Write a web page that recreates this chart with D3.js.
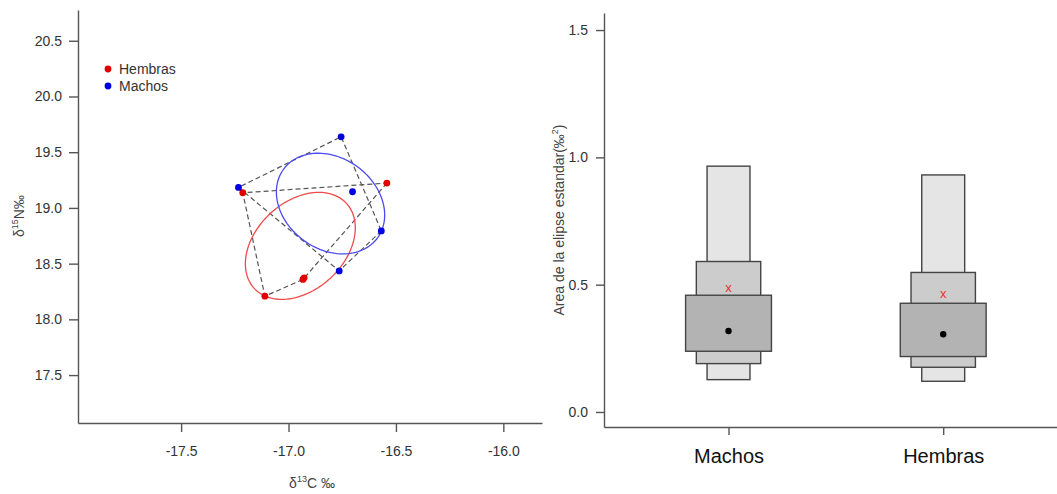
<!DOCTYPE html>
<html>
<head>
<meta charset="utf-8">
<style>
  body { margin: 0; background: #fff; }
  svg { display: block; }
  text { font-family: "Liberation Sans", Arial, sans-serif; }
</style>
</head>
<body>
<svg width="1057" height="494"></svg>
<script src="https://d3js.org/d3.v7.min.js"></script>
<script>

// ---- left panel: isotope scatter (d13C vs d15N) ----
var groups = ["Hembras", "Machos"];
var groupColors = ["#e00000", "#0000e0"];
var ellipseColors = ["#f04a4a", "#4a4af0"];

var hembrasC = [-17.213, -16.542, -16.927, -16.933, -17.110];
var hembrasN = [19.136, 19.223, 18.373, 18.358, 18.208];
var machosC = [-17.233, -16.755, -16.702, -16.568, -16.764];
var machosN = [19.184, 19.638, 19.145, 18.794, 18.435];

var xTicksL = [-17.5, -17.0, -16.5, -16.0];
var yTicksL = [17.5, 18.0, 18.5, 19.0, 19.5, 20.0, 20.5];

// ---- right panel: SEA posterior density boxes ----
var seaCats = ["Machos", "Hembras"];
var seaMode = [0.318, 0.305];
var seaC = [0.491, 0.465];
var ci50Lo = [0.2385, 0.2177], ci50Hi = [0.4585, 0.427];
var ci75Lo = [0.190, 0.1756], ci75Hi = [0.591, 0.548];
var ci95Lo = [0.127, 0.1206], ci95Hi = [0.9655, 0.931];
var yTicksR = [0.0, 0.5, 1.0, 1.5];

var svg = d3.select("svg");
var axisColor = "#555";
var fmt = function(d) { return d.toFixed(1); };

// scales
var xL = d3.scaleLinear().domain([-17.98, -15.82]).range([78, 542]);
var yL = d3.scaleLinear().domain([17.07, 20.776]).range([423, 10]);
var xR = d3.scaleLinear().domain([0.42, 2.53]).range([604, 1057]);
var yR = d3.scaleLinear().domain([-0.059, 1.567]).range([427, 13]);

function styleAxis(g, fontSize) {
  g.select(".domain").attr("stroke", axisColor).attr("stroke-width", 1.4);
  g.selectAll(".tick line").attr("stroke", axisColor).attr("stroke-width", 1.4);
  g.selectAll(".tick text").attr("fill", "#333").attr("font-size", fontSize)
    .attr("font-family", "Liberation Sans, Arial, sans-serif");
}

// left axes
var gxL = svg.append("g").attr("transform", "translate(0,423)")
    .call(d3.axisBottom(xL).tickValues(xTicksL).tickFormat(fmt).tickSize(9).tickSizeOuter(0).tickPadding(14));
styleAxis(gxL, 14);
var gyL = svg.append("g").attr("transform", "translate(78,0)")
    .call(d3.axisLeft(yL).tickValues(yTicksL).tickFormat(fmt).tickSize(9).tickSizeOuter(0).tickPadding(7));
styleAxis(gyL, 14);

// axis titles (left)
var xt = svg.append("text").attr("x", 312).attr("y", 488).attr("text-anchor", "middle")
    .attr("font-size", 14).attr("fill", "#444");
xt.append("tspan").text("δ");
xt.append("tspan").attr("font-size", 9).attr("dy", -6).text("13");
xt.append("tspan").attr("dy", 6).text("C ‰");

var yt = svg.append("text").attr("transform", "translate(24,216) rotate(-90)")
    .attr("text-anchor", "middle").attr("font-size", 14).attr("fill", "#444");
yt.append("tspan").text("δ");
yt.append("tspan").attr("font-size", 9).attr("dy", -6).text("15");
yt.append("tspan").attr("dy", 6).text("N‰");

// group data
var groupData = [
  { name: groups[0], c: hembrasC, n: hembrasN, color: groupColors[0], ell: ellipseColors[0] },
  { name: groups[1], c: machosC, n: machosN, color: groupColors[1], ell: ellipseColors[1] }
];

// standard ellipse from sample covariance
function stdEllipse(cs, ns) {
  var n = cs.length, mx = d3.mean(cs), my = d3.mean(ns);
  var a = 0, b = 0, c = 0;
  for (var i = 0; i < n; i++) {
    var dx = cs[i] - mx, dy = ns[i] - my;
    a += dx * dx; b += dx * dy; c += dy * dy;
  }
  a /= (n - 1); b /= (n - 1); c /= (n - 1);
  var m = (a + c) / 2, r = Math.sqrt(((a - c) / 2) * ((a - c) / 2) + b * b);
  var l1 = m + r, l2 = m - r;
  var th = 0.5 * Math.atan2(2 * b, a - c);
  var pts = [];
  for (var k = 0; k < 120; k++) {
    var t = 2 * Math.PI * k / 120;
    var u = Math.sqrt(l1) * Math.cos(t), v = Math.sqrt(l2) * Math.sin(t);
    pts.push([mx + u * Math.cos(th) - v * Math.sin(th), my + u * Math.sin(th) + v * Math.cos(th)]);
  }
  return pts;
}

var lineL = d3.line()
    .x(function(d) { return xL(d[0]); })
    .y(function(d) { return yL(d[1]); })
    .curve(d3.curveLinearClosed);

// convex hulls (dashed)
groupData.forEach(function(g) {
  var pts = g.c.map(function(v, i) { return [v, g.n[i]]; });
  var hull = d3.polygonHull(pts);
  svg.append("path").datum(hull)
      .attr("d", lineL)
      .attr("fill", "none")
      .attr("stroke", "#555")
      .attr("stroke-width", 1.2)
      .attr("stroke-dasharray", "5,3");
});

// ellipses
groupData.forEach(function(g) {
  svg.append("path").datum(stdEllipse(g.c, g.n))
      .attr("d", lineL)
      .attr("fill", "none")
      .attr("stroke", g.ell)
      .attr("stroke-width", 1.3);
});

// points
groupData.forEach(function(g) {
  svg.append("g").selectAll("circle")
    .data(g.c.map(function(v, i) { return [v, g.n[i]]; }))
    .enter().append("circle")
      .attr("cx", function(d) { return xL(d[0]); })
      .attr("cy", function(d) { return yL(d[1]); })
      .attr("r", 3.4)
      .attr("fill", g.color);
});

// legend
var leg = svg.append("g");
groupData.forEach(function(g, i) {
  leg.append("circle").attr("cx", 108).attr("cy", 69 + i * 17).attr("r", 3.4).attr("fill", g.color);
  leg.append("text").attr("x", 119).attr("y", 74 + i * 17)
      .attr("font-size", 14).attr("fill", "#333").text(g.name);
});

// ---- right panel ----
var gyR = svg.append("g").attr("transform", "translate(604,0)")
    .call(d3.axisLeft(yR).tickValues(yTicksR).tickFormat(fmt).tickSize(8).tickSizeOuter(0).tickPadding(8));
styleAxis(gyR, 14);

var gxR = svg.append("g").attr("transform", "translate(0,427)")
    .call(d3.axisBottom(xR).tickValues([1, 2]).tickFormat(function(d) { return seaCats[d - 1]; })
      .tickSize(8).tickSizeOuter(0).tickPadding(14));
styleAxis(gxR, 20);
gxR.selectAll(".tick text").attr("font-family", "Lato, 'Open Sans', sans-serif").attr("fill", "#111");

var yrt = svg.append("text").attr("transform", "translate(564,220) rotate(-90)")
    .attr("text-anchor", "middle").attr("font-size", 14).attr("fill", "#444");
yrt.append("tspan").text("Area de la elipse estandar(‰");
yrt.append("tspan").attr("font-size", 9).attr("dy", -6).text("2");
yrt.append("tspan").attr("dy", 6).text(")");

var levels = [
  { lo: ci95Lo, hi: ci95Hi, w: 0.10, fill: "#e5e5e5" },
  { lo: ci75Lo, hi: ci75Hi, w: 0.15, fill: "#cccccc" },
  { lo: ci50Lo, hi: ci50Hi, w: 0.20, fill: "#b3b3b3" }
];

seaCats.forEach(function(cat, i) {
  var pos = i + 1;
  levels.forEach(function(lv) {
    svg.append("rect")
        .attr("x", xR(pos - lv.w))
        .attr("width", xR(pos + lv.w) - xR(pos - lv.w))
        .attr("y", yR(lv.hi[i]))
        .attr("height", yR(lv.lo[i]) - yR(lv.hi[i]))
        .attr("fill", lv.fill)
        .attr("stroke", "#444")
        .attr("stroke-width", 1.4);
  });
  svg.append("circle")
      .attr("cx", xR(pos))
      .attr("cy", yR(seaMode[i]))
      .attr("r", 3.2)
      .attr("fill", "#000");
  svg.append("text")
      .attr("x", xR(pos))
      .attr("y", yR(seaC[i]))
      .attr("dy", "0.35em")
      .attr("text-anchor", "middle")
      .attr("font-size", 13)
      .attr("fill", "#f03030")
      .text("x");
});

</script>
</body>
</html>
